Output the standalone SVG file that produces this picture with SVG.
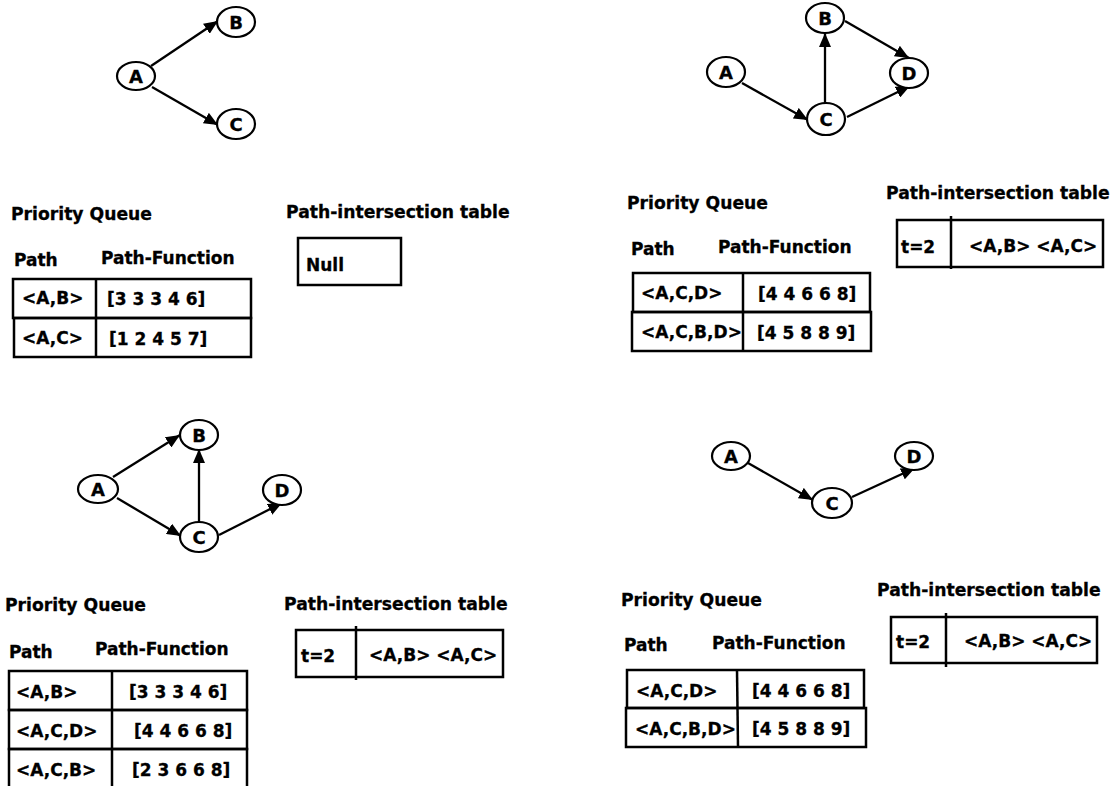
<svg xmlns="http://www.w3.org/2000/svg" width="1115" height="786" viewBox="0 0 1115 786">
  <defs>
    <marker id="arrow" markerUnits="userSpaceOnUse" markerWidth="14" markerHeight="12" refX="14" refY="6" orient="auto">
      <path d="M0,0 L14,6 L0,12 z" fill="#000"/>
    </marker>
    <style>
      text { font-family: "DejaVu Sans", "Liberation Sans", sans-serif; font-weight: bold; font-size: 17px; fill: #000; stroke: #000; stroke-width: 0.3; }
      .title { font-size: 17.2px; }
      .lbl { font-size: 18px; text-anchor: middle; }
      .node ellipse { fill: #fff; stroke: #000; stroke-width: 2.2; }
      .edge { stroke: #000; stroke-width: 2.3; fill: none; marker-end: url(#arrow); }
      .cell { fill: none; stroke: #000; stroke-width: 2.5; }
      .rule { stroke: #000; stroke-width: 2.5; }
    </style>
  </defs>
  <rect width="1115" height="786" fill="#fff"/>

  <!-- connectors -->
  <g id="connectors">
    <!-- panel 1 -->
    <line class="edge" x1="151" y1="66" x2="218" y2="21"/>
    <line class="edge" x1="152" y1="87" x2="218" y2="125"/>
    <!-- panel 2 -->
    <line class="edge" x1="742" y1="83" x2="808" y2="120"/>
    <line class="edge" x1="825" y1="103" x2="825" y2="33"/>
    <line class="edge" x1="845" y1="21" x2="909" y2="58"/>
    <line class="edge" x1="847" y1="117" x2="910" y2="86"/>
    <!-- panel 3 -->
    <line class="edge" x1="113" y1="477" x2="180" y2="435"/>
    <line class="edge" x1="117" y1="498" x2="181" y2="536"/>
    <line class="edge" x1="199" y1="521" x2="199" y2="449"/>
    <line class="edge" x1="219" y1="535" x2="282" y2="503"/>
    <!-- panel 4 -->
    <line class="edge" x1="748" y1="463" x2="813" y2="500"/>
    <line class="edge" x1="852" y1="497" x2="915" y2="468"/>
  </g>

  <!-- panel 1 graph -->
  <g id="p1-A" class="node"><ellipse cx="136" cy="76" rx="19" ry="14"/><text class="lbl" x="136" y="82.5">A</text></g>
  <g id="p1-B" class="node"><ellipse cx="236" cy="22" rx="19" ry="15"/><text class="lbl" x="236" y="28.5">B</text></g>
  <g id="p1-C" class="node"><ellipse cx="236" cy="124" rx="19" ry="15"/><text class="lbl" x="236" y="130.5">C</text></g>

  <!-- panel 2 graph -->
  <g id="p2-A" class="node"><ellipse cx="726" cy="72" rx="19" ry="15"/><text class="lbl" x="726" y="78.5">A</text></g>
  <g id="p2-B" class="node"><ellipse cx="825" cy="18" rx="19" ry="15"/><text class="lbl" x="825" y="24.5">B</text></g>
  <g id="p2-C" class="node"><ellipse cx="826" cy="119" rx="19" ry="16"/><text class="lbl" x="826" y="125.5">C</text></g>
  <g id="p2-D" class="node"><ellipse cx="909" cy="73" rx="19" ry="15"/><text class="lbl" x="909" y="79.5">D</text></g>

  <!-- panel 3 graph -->
  <g id="p3-A" class="node"><ellipse cx="98" cy="489" rx="20" ry="14"/><text class="lbl" x="98" y="495.5">A</text></g>
  <g id="p3-B" class="node"><ellipse cx="199" cy="435" rx="19" ry="15"/><text class="lbl" x="199" y="441.5">B</text></g>
  <g id="p3-C" class="node"><ellipse cx="199" cy="537" rx="19" ry="15"/><text class="lbl" x="199" y="543.5">C</text></g>
  <g id="p3-D" class="node"><ellipse cx="282" cy="490" rx="19" ry="15"/><text class="lbl" x="282" y="496.5">D</text></g>

  <!-- panel 4 graph -->
  <g id="p4-A" class="node"><ellipse cx="731" cy="456" rx="19" ry="14"/><text class="lbl" x="731" y="462.5">A</text></g>
  <g id="p4-C" class="node"><ellipse cx="832" cy="503" rx="20" ry="15"/><text class="lbl" x="832" y="509.5">C</text></g>
  <g id="p4-D" class="node"><ellipse cx="914" cy="456" rx="19" ry="14"/><text class="lbl" x="914" y="462.5">D</text></g>

  <!-- panel 1 tables -->
  <g id="p1-queue">
    <text class="title" x="11" y="220">Priority Queue</text>
    <text x="14" y="266">Path</text>
    <text x="101" y="264">Path-Function</text>
    <rect class="cell" x="13" y="279" width="238" height="39"/>
    <rect class="cell" x="14" y="318" width="237" height="39"/>
    <line class="rule" x1="96" y1="279" x2="96" y2="357"/>
    <text x="22" y="304">&lt;A,B&gt;</text>
    <text x="107" y="305">[3 3 3 4 6]</text>
    <text x="22" y="344">&lt;A,C&gt;</text>
    <text x="109" y="345">[1 2 4 5 7]</text>
  </g>
  <g id="p1-intersection">
    <text class="title" x="286" y="218">Path-intersection table</text>
    <rect class="cell" x="298" y="238" width="103" height="47"/>
    <text x="306" y="271">Null</text>
  </g>

  <!-- panel 2 tables -->
  <g id="p2-queue">
    <text class="title" x="627" y="209">Priority Queue</text>
    <text x="631" y="255">Path</text>
    <text x="718" y="253">Path-Function</text>
    <rect class="cell" x="633" y="273" width="237" height="39"/>
    <rect class="cell" x="632" y="312" width="239" height="39"/>
    <line class="rule" x1="743" y1="273" x2="743" y2="351"/>
    <text x="641" y="299">&lt;A,C,D&gt;</text>
    <text x="758" y="300">[4 4 6 6 8]</text>
    <text x="641" y="338">&lt;A,C,B,D&gt;</text>
    <text x="757" y="339">[4 5 8 8 9]</text>
  </g>
  <g id="p2-intersection">
    <text class="title" x="886" y="199">Path-intersection table</text>
    <rect class="cell" x="897" y="220" width="206" height="47"/>
    <line class="rule" x1="951" y1="216" x2="951" y2="269"/>
    <text x="901" y="253">t=2</text>
    <text x="969" y="252">&lt;A,B&gt; &lt;A,C&gt;</text>
  </g>

  <!-- panel 3 tables -->
  <g id="p3-queue">
    <text class="title" x="5" y="611">Priority Queue</text>
    <text x="9" y="658">Path</text>
    <text x="95" y="655">Path-Function</text>
    <rect class="cell" x="9" y="671" width="238" height="39"/>
    <rect class="cell" x="9" y="710" width="238" height="39"/>
    <rect class="cell" x="9" y="749" width="238" height="39"/>
    <line class="rule" x1="112" y1="671" x2="112" y2="788"/>
    <text x="16" y="698">&lt;A,B&gt;</text>
    <text x="129" y="698">[3 3 3 4 6]</text>
    <text x="16" y="737">&lt;A,C,D&gt;</text>
    <text x="134" y="737">[4 4 6 6 8]</text>
    <text x="16" y="776">&lt;A,C,B&gt;</text>
    <text x="132" y="776">[2 3 6 6 8]</text>
  </g>
  <g id="p3-intersection">
    <text class="title" x="284" y="610">Path-intersection table</text>
    <rect class="cell" x="296" y="630" width="207" height="47"/>
    <line class="rule" x1="356" y1="626" x2="356" y2="680"/>
    <text x="301" y="662">t=2</text>
    <text x="369" y="661">&lt;A,B&gt; &lt;A,C&gt;</text>
  </g>

  <!-- panel 4 tables -->
  <g id="p4-queue">
    <text class="title" x="621" y="606">Priority Queue</text>
    <text x="624" y="651">Path</text>
    <text x="712" y="649">Path-Function</text>
    <rect class="cell" x="627" y="670" width="237" height="38"/>
    <rect class="cell" x="626" y="708" width="240" height="39"/>
    <line class="rule" x1="737" y1="670" x2="738" y2="747"/>
    <text x="636" y="697">&lt;A,C,D&gt;</text>
    <text x="752" y="697">[4 4 6 6 8]</text>
    <text x="635" y="735">&lt;A,C,B,D&gt;</text>
    <text x="752" y="735">[4 5 8 8 9]</text>
  </g>
  <g id="p4-intersection">
    <text class="title" x="877" y="596">Path-intersection table</text>
    <rect class="cell" x="891" y="617" width="206" height="46"/>
    <line class="rule" x1="946" y1="613" x2="946" y2="667"/>
    <text x="896" y="648">t=2</text>
    <text x="964" y="647">&lt;A,B&gt; &lt;A,C&gt;</text>
  </g>
</svg>
